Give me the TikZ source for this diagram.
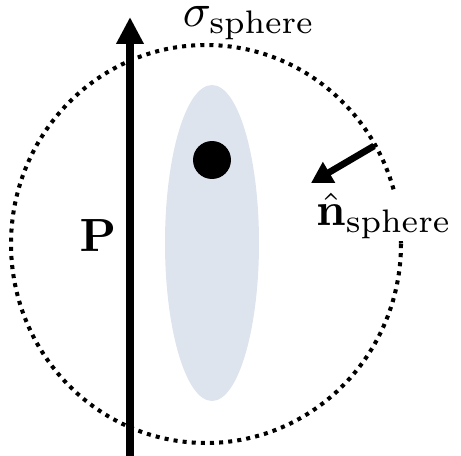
\documentclass[tikz,border=0pt]{standalone}
\usetikzlibrary{arrows.meta}
\definecolor{blobblue}{RGB}{221,228,238}
\tikzset{
    sphereline/.style={
        line width=2.3pt,dash pattern=on 2.3pt off 2.9pt
    },
    bigarrow/.style={
        -{Triangle[length=0.54cm,width=0.52cm]},line width=4.4pt
    },
    normalarrow/.style={
        -{Triangle[length=0.42cm,width=0.46cm]},line width=3.8pt
    },
    lbl/.style={
        font=\normalsize,scale=2.65,inner sep=0.4pt
    }
}

\begin{document}
\begin{tikzpicture}[x=0.02cm,y=-0.02cm]

\useasboundingbox (0,0) rectangle (461,456);

\fill[blobblue] (212,243) ellipse [x radius=47,y radius=158];

\node[circle,fill=black,minimum size=0.76cm,inner sep=0pt]
(charge) at (212,160) {};

\draw[sphereline] (206,244) ellipse [x radius=195,y radius=199];

\coordinate (pbot) at (130,460);
\coordinate (ptop) at (130,17);
\draw[bigarrow] (pbot)--(ptop);

\coordinate (ntail) at (374,146);
\coordinate (ntip) at (311,183);
\draw[normalarrow] (ntail)--(ntip);

\node[lbl] (sigma) at (249,23) {$\sigma_{\mathrm{sphere}}$};
\node[lbl,fill=white] (nhat) at (384,216) {$\hat{\mathbf{n}}_{\mathrm{sphere}}$};
\node[lbl] (pvec) at (98,236) {$\mathbf{P}$};

\end{tikzpicture}
\end{document}
